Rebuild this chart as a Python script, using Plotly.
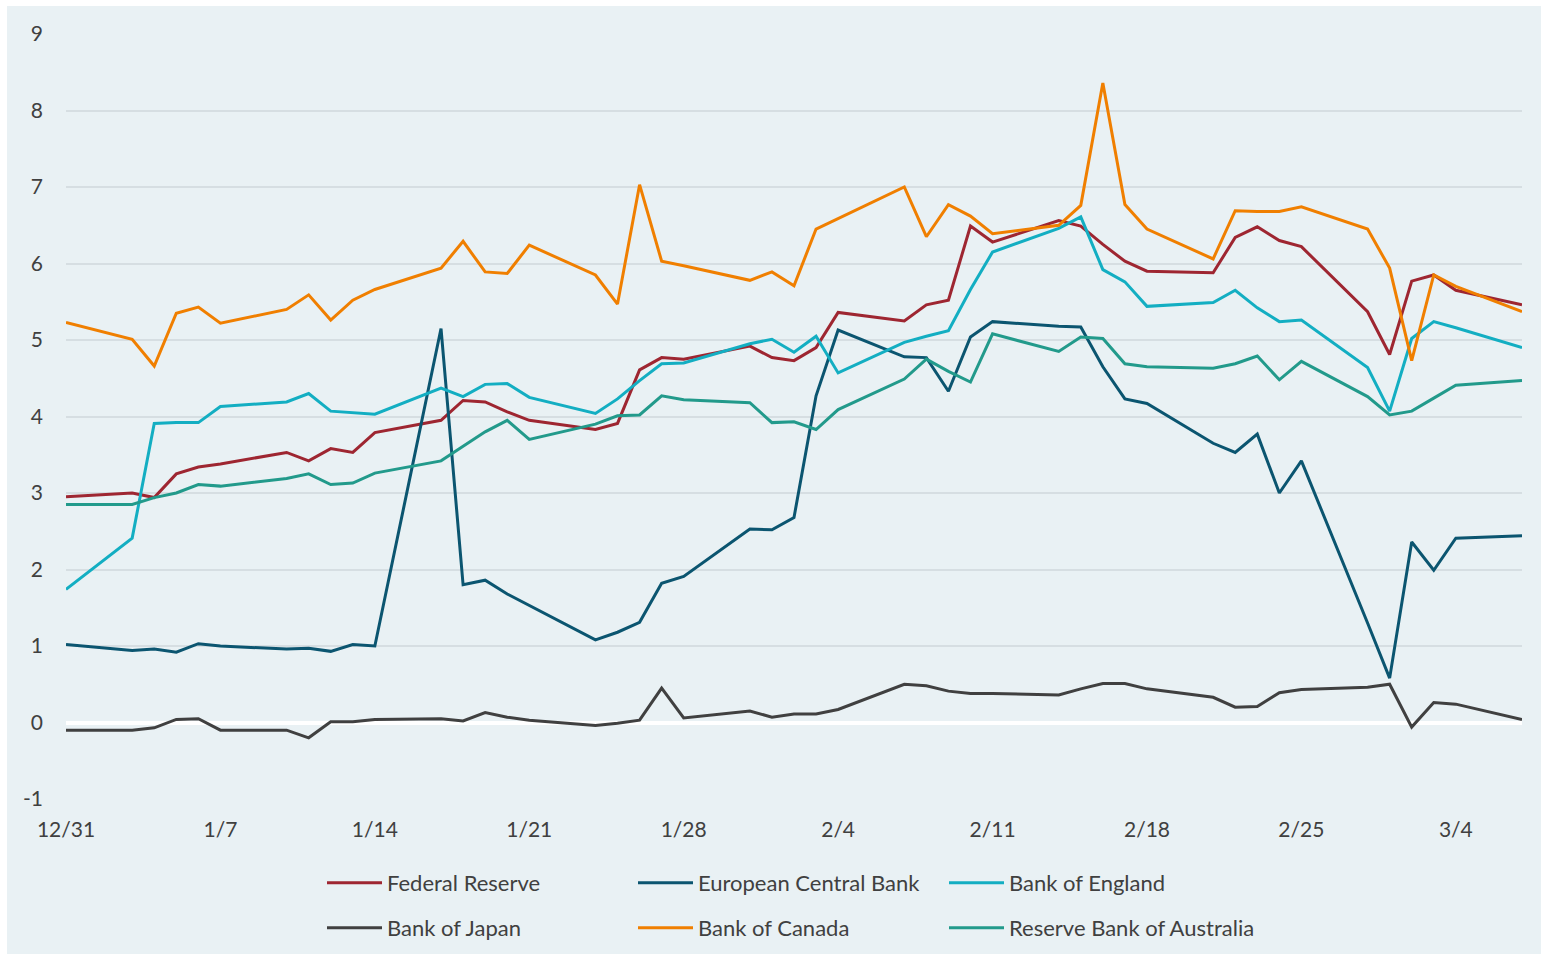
import plotly.graph_objects as go

# Trading days (weekdays) from 31 Dec 2021 to 7 Mar 2022
dates = [
    "2021-12-31",
    "2022-01-03", "2022-01-04", "2022-01-05", "2022-01-06", "2022-01-07",
    "2022-01-10", "2022-01-11", "2022-01-12", "2022-01-13", "2022-01-14",
    "2022-01-17", "2022-01-18", "2022-01-19", "2022-01-20", "2022-01-21",
    "2022-01-24", "2022-01-25", "2022-01-26", "2022-01-27", "2022-01-28",
    "2022-01-31", "2022-02-01", "2022-02-02", "2022-02-03", "2022-02-04",
    "2022-02-07", "2022-02-08", "2022-02-09", "2022-02-10", "2022-02-11",
    "2022-02-14", "2022-02-15", "2022-02-16", "2022-02-17", "2022-02-18",
    "2022-02-21", "2022-02-22", "2022-02-23", "2022-02-24", "2022-02-25",
    "2022-02-28", "2022-03-01", "2022-03-02", "2022-03-03", "2022-03-04",
    "2022-03-07",
]

federal_reserve = [
    2.95,
    3.00, 2.94, 3.25, 3.34, 3.38,
    3.53, 3.42, 3.58, 3.53, 3.79,
    3.95, 4.21, 4.19, 4.06, 3.95,
    3.83, 3.91, 4.61, 4.77, 4.75,
    4.92, 4.77, 4.73, 4.90, 5.36,
    5.25, 5.46, 5.52, 6.49, 6.28,
    6.56, 6.49, 6.25, 6.03, 5.90,
    5.88, 6.34, 6.48, 6.30, 6.22,
    5.37, 4.81, 5.77, 5.85, 5.65,
    5.46,
]

european_central_bank = [
    1.02,
    0.94, 0.96, 0.92, 1.03, 1.00,
    0.96, 0.97, 0.93, 1.02, 1.00,
    5.15, 1.80, 1.86, 1.68, 1.53,
    1.08, 1.18, 1.31, 1.82, 1.91,
    2.53, 2.52, 2.68, 4.27, 5.13,
    4.78, 4.77, 4.33, 5.04, 5.24,
    5.18, 5.17, 4.65, 4.23, 4.17,
    3.65, 3.53, 3.77, 3.00, 3.42,
    1.30, 0.58, 2.36, 1.99, 2.41,
    2.44,
]

bank_of_england = [
    1.74,
    2.41, 3.91, 3.92, 3.92, 4.13,
    4.19, 4.30, 4.07, 4.05, 4.03,
    4.37, 4.26, 4.42, 4.43, 4.25,
    4.04, 4.23, 4.47, 4.69, 4.70,
    4.95, 5.01, 4.84, 5.05, 4.57,
    4.97, 5.05, 5.12, 5.66, 6.15,
    6.46, 6.61, 5.92, 5.76, 5.44,
    5.49, 5.65, 5.42, 5.24, 5.26,
    4.64, 4.07, 5.02, 5.24, 5.16,
    4.90,
]

bank_of_japan = [
    -0.10,
    -0.10, -0.07, 0.04, 0.05, -0.10,
    -0.10, -0.20, 0.01, 0.01, 0.04,
    0.05, 0.02, 0.13, 0.07, 0.03,
    -0.04, -0.01, 0.03, 0.45, 0.06,
    0.15, 0.07, 0.11, 0.11, 0.17,
    0.50, 0.48, 0.41, 0.38, 0.38,
    0.36, 0.44, 0.51, 0.51, 0.44,
    0.33, 0.20, 0.21, 0.39, 0.43,
    0.46, 0.50, -0.06, 0.26, 0.24,
    0.04,
]

bank_of_canada = [
    5.23,
    5.01, 4.66, 5.35, 5.43, 5.22,
    5.40, 5.59, 5.26, 5.52, 5.66,
    5.94, 6.29, 5.89, 5.87, 6.24,
    5.85, 5.47, 7.03, 6.03, 5.97,
    5.78, 5.89, 5.71, 6.45, 6.59,
    7.00, 6.35, 6.77, 6.62, 6.39,
    6.50, 6.76, 8.36, 6.77, 6.45,
    6.06, 6.69, 6.68, 6.68, 6.74,
    6.45, 5.94, 4.73, 5.85, 5.70,
    5.37,
]

reserve_bank_of_australia = [
    2.85,
    2.85, 2.94, 3.00, 3.11, 3.09,
    3.19, 3.25, 3.11, 3.13, 3.26,
    3.42, 3.61, 3.80, 3.95, 3.70,
    3.90, 4.01, 4.02, 4.27, 4.22,
    4.18, 3.92, 3.93, 3.83, 4.09,
    4.49, 4.75, 4.59, 4.45, 5.08,
    4.85, 5.04, 5.02, 4.69, 4.65,
    4.63, 4.69, 4.79, 4.48, 4.72,
    4.26, 4.02, 4.07, 4.24, 4.41,
    4.47,
]

y_ticks = [-1, 0, 1, 2, 3, 4, 5, 6, 7, 8, 9]

# (name, values, colour, legend row)
series = [
    ("Federal Reserve", federal_reserve, "#9e2631", "legend"),
    ("European Central Bank", european_central_bank, "#0b5570", "legend"),
    ("Bank of England", bank_of_england, "#13aec2", "legend"),
    ("Bank of Japan", bank_of_japan, "#404040", "legend2"),
    ("Bank of Canada", bank_of_canada, "#f07f00", "legend2"),
    ("Reserve Bank of Australia", reserve_bank_of_australia, "#229a8b", "legend2"),
]

BG = "#e9f1f4"
TEXT = "#404040"
FONT = "Lato, 'Open Sans', sans-serif"

fig = go.Figure()
for name, values, color, leg in series:
    fig.add_trace(go.Scatter(
        x=dates, y=values, name=name, mode="lines",
        line=dict(color=color, width=3),
        legend=leg,
    ))

W, H = 1547, 960
L, R, T, B = 66, 25, 34, 161
pw, ph = W - L - R, H - T - B

def px_x(p):
    return (p - L) / pw

def px_y(p):
    return (H - B - p) / ph

# light panel behind the whole chart, leaving a thin white rim
fig.add_shape(
    type="rect", xref="paper", yref="paper", layer="below",
    x0=px_x(7), x1=px_x(1541), y0=px_y(954), y1=px_y(6),
    fillcolor=BG, line=dict(width=0),
)

legend_style = dict(
    orientation="h",
    x=px_x(322), xanchor="left",
    yanchor="top",
    entrywidth=241, entrywidthmode="pixels",
    itemwidth=55,
    font=dict(family=FONT, size=22, color=TEXT),
    bgcolor="rgba(0,0,0,0)",
    traceorder="normal",
)

fig.update_layout(
    width=W, height=H,
    margin=dict(l=L, r=R, t=T, b=B, autoexpand=False),
    paper_bgcolor="white",
    plot_bgcolor=BG,
    font=dict(family=FONT, size=21, color=TEXT),
    showlegend=True,
    legend=dict(legend_style, y=px_y(862)),
    legend2=dict(legend_style, y=px_y(907)),
    hovermode=False,
)

fig.update_xaxes(
    type="date",
    range=["2021-12-31", "2022-03-07"],
    tick0="2021-12-31", dtick=7 * 24 * 3600 * 1000,
    tickformat="%-m/%-d",
    showgrid=False, zeroline=False, showline=False,
    ticks="", ticklabelstandoff=16,
    tickfont=dict(family=FONT, size=21, color=TEXT),
)

fig.update_yaxes(
    range=[-1, 9],
    tickmode="array", tickvals=y_ticks, ticktext=[str(v) for v in y_ticks],
    showgrid=True, gridcolor="#d6dee2", gridwidth=2,
    zeroline=True, zerolinecolor="white", zerolinewidth=4,
    showline=False, ticks="", ticklabelstandoff=22,
    tickfont=dict(family=FONT, size=21, color=TEXT),
)

fig.write_html("out.html")
